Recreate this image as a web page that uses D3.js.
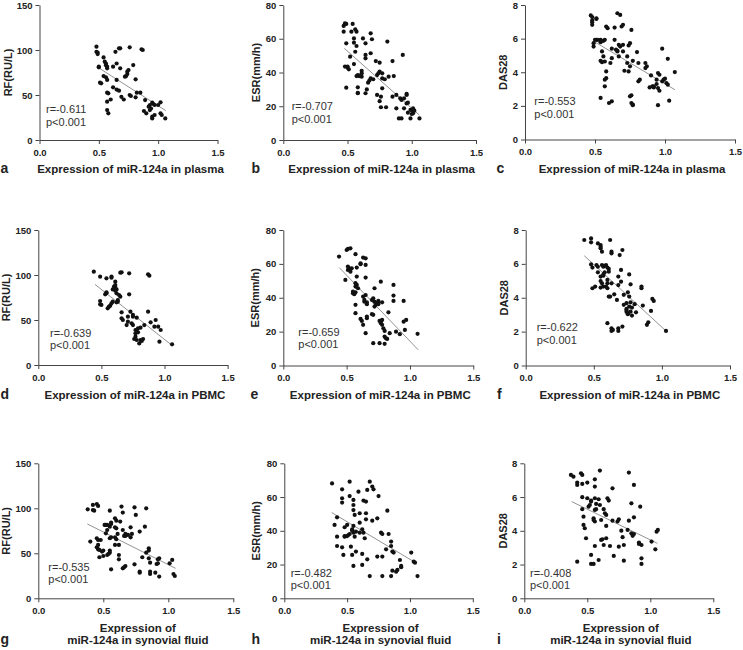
<!DOCTYPE html>
<html><head><meta charset="utf-8">
<script src="https://cdn.jsdelivr.net/npm/d3@7"></script>
<style>body{margin:0;background:#fff} svg{display:block;font-family:Arial,"Liberation Sans",sans-serif}</style>
</head><body><svg id="chart" width="743" height="650"></svg>
<script>
// ---------- DATA ----------
const xTicks = [0, 0.5, 1.0, 1.5];
const rfTicks = [0, 50, 100, 150];
const esrTicks = [0, 20, 40, 60, 80];
const dasTicks = [0, 2, 4, 6, 8];
const yLabels = ["RF(RU/L)", "ESR(mm/h)", "DAS28"];
const panelLetters = ["a","b","c","d","e","f","g","h","i"];
const xTitles = [
  ["Expression of miR-124a in plasma"], ["Expression of miR-124a in plasma"], ["Expression of miR-124a in plasma"],
  ["Expression of miR-124a in PBMC"], ["Expression of miR-124a in PBMC"], ["Expression of miR-124a in PBMC"],
  ["Expression of", "miR-124a in synovial fluid"], ["Expression of", "miR-124a in synovial fluid"], ["Expression of", "miR-124a in synovial fluid"]
];
const rValues = ["-0.611","-0.707","-0.553","-0.639","-0.659","-0.622","-0.535","-0.482","-0.408"];
const pText = "p<0.001";

const plasmaRF = [[0.48,103.7],[0.48,98],[0.49,97],[0.49,95.5],[0.50,81.5],[0.50,80.7],[0.51,63.7],[0.52,63],[0.54,91.8],[0.55,87],[0.56,85],[0.56,83],[0.57,81.5],[0.57,79.6],[0.54,71],[0.56,69.6],[0.57,66.7],[0.57,52.6],[0.58,51.9],[0.57,42.6],[0.60,45],[0.57,33.3],[0.58,29.6],[0.62,58.5],[0.62,81.5],[0.64,98],[0.65,85],[0.65,66.7],[0.65,56],[0.67,54.8],[0.67,101.9],[0.68,101.9],[0.68,79.6],[0.69,48],[0.71,45],[0.72,70.4],[0.74,73.3],[0.74,75.9],[0.75,77.8],[0.73,71],[0.76,103],[0.76,50],[0.77,48.9],[0.79,83.3],[0.81,67.4],[0.81,47.4],[0.82,52.6],[0.85,52.6],[0.86,100.7],[0.87,100],[0.89,44.4],[0.88,32.2],[0.90,29.6],[0.92,37],[0.93,38.9],[0.95,41.5],[0.96,40],[0.97,38.9],[0.93,33.3],[0.94,35],[0.95,25.9],[0.95,24],[0.97,27.8],[1.00,38.9],[1.02,29.6],[1.03,27.8],[1.02,41.9],[1.06,24]];
const plasmaESR = [[0.47,67.6],[0.48,69.1],[0.49,68.8],[0.47,64.2],[0.49,57.3],[0.48,43.5],[0.50,42.9],[0.50,43.5],[0.51,41.9],[0.49,31],[0.52,49.4],[0.54,68.8],[0.53,64.2],[0.55,60.2],[0.55,57.7],[0.56,65.6],[0.57,64.2],[0.56,52.3],[0.55,45],[0.57,55.7],[0.57,37.9],[0.58,38.5],[0.59,37.9],[0.58,31.2],[0.58,28],[0.58,27.7],[0.61,41],[0.61,39.5],[0.61,37.5],[0.62,60.2],[0.64,57.3],[0.64,48.4],[0.64,50.4],[0.64,27.7],[0.65,30],[0.66,34],[0.67,35.2],[0.68,36.5],[0.68,51.4],[0.68,63.2],[0.69,59.7],[0.70,36],[0.73,38.5],[0.74,39.5],[0.75,40.5],[0.72,46.8],[0.75,45.8],[0.73,26.7],[0.75,23],[0.76,25.7],[0.76,19.4],[0.77,36.5],[0.77,39.5],[0.77,30.6],[0.79,36],[0.80,19.4],[0.81,58.3],[0.82,37.5],[0.85,46.8],[0.86,37.9],[0.85,25.7],[0.88,26.7],[0.88,18.8],[0.90,12.8],[0.92,12.8],[0.91,24.7],[0.92,23.7],[0.93,50.4],[0.94,24.7],[0.96,26.7],[0.96,27.3],[0.94,18.8],[0.96,21.7],[0.97,22.1],[0.97,16.2],[0.99,17.8],[1.01,18.8],[1.02,17.4],[1.00,15.4],[0.99,12.8],[1.01,15.8],[1.01,16.8],[1.06,12.8]];
const plasmaDAS = [[0.47,7.38],[0.48,7.28],[0.48,7.08],[0.48,6.98],[0.48,6.82],[0.51,7.21],[0.51,7.17],[0.49,5.73],[0.49,5.53],[0.50,5.93],[0.51,5.93],[0.52,5.93],[0.54,5.93],[0.54,5.79],[0.56,5.87],[0.57,5.93],[0.55,5.24],[0.56,4.94],[0.54,4.68],[0.55,4.6],[0.57,4.64],[0.58,6.72],[0.59,6.62],[0.58,4.05],[0.58,3.65],[0.57,3.56],[0.57,3.16],[0.54,2.47],[0.60,2.17],[0.62,2.27],[0.61,4.55],[0.62,4.84],[0.62,5.4],[0.64,5.93],[0.64,6.66],[0.65,5.34],[0.66,5.24],[0.66,5.28],[0.66,7.51],[0.68,7.41],[0.67,5.63],[0.68,5.53],[0.67,4.94],[0.69,6.72],[0.70,6.82],[0.70,5.63],[0.70,5.24],[0.71,4.09],[0.73,4.94],[0.73,4.55],[0.74,5.59],[0.75,5.73],[0.74,4.05],[0.75,4.35],[0.76,6.52],[0.75,2.57],[0.76,2.63],[0.76,2.17],[0.77,2.08],[0.77,2.04],[0.77,4.68],[0.80,5.2],[0.81,4.55],[0.81,3.46],[0.82,3.56],[0.86,4.55],[0.87,4.35],[0.86,4.25],[0.90,3.81],[0.89,3.1],[0.91,3.16],[0.92,3.1],[0.92,3.16],[0.94,3.56],[0.94,3.3],[0.95,3.06],[0.96,2.9],[0.95,2.04],[0.95,3.95],[0.96,3.85],[0.98,5.4],[0.98,3.46],[0.99,3.56],[1.00,3.62],[1.01,3.36],[1.02,3.26],[1.02,4.8],[1.03,2.31],[1.07,4.01]];
const pbmcRF = [[0.44,103.7],[0.49,98.1],[0.49,67.4],[0.50,66.7],[0.49,71.1],[0.54,96.3],[0.54,79.6],[0.53,78.5],[0.54,80.7],[0.55,63],[0.56,64.8],[0.57,65.9],[0.58,98.1],[0.58,97],[0.58,68.5],[0.59,70.4],[0.59,84],[0.60,87],[0.61,82.6],[0.61,86.7],[0.62,84],[0.61,88.9],[0.61,92.6],[0.62,79.6],[0.63,72.2],[0.63,70.4],[0.62,69.6],[0.64,77.8],[0.65,75.9],[0.65,102.6],[0.66,103],[0.66,58.5],[0.66,51.9],[0.67,50],[0.71,53.7],[0.70,44.4],[0.71,48.1],[0.72,101.9],[0.72,78.5],[0.73,59.3],[0.75,55.6],[0.75,53.7],[0.74,46.3],[0.75,44.4],[0.77,38.9],[0.77,35.2],[0.77,31.5],[0.76,28.9],[0.78,27.8],[0.78,38.9],[0.79,36.3],[0.79,40.7],[0.78,52.6],[0.80,24],[0.81,27.8],[0.83,28.9],[0.82,26.7],[0.81,41.5],[0.84,44.4],[0.87,100.7],[0.88,99.3],[0.87,59.3],[0.89,47.4],[0.92,42.6],[0.93,50],[0.95,42.6],[0.96,25.9],[0.97,38.9],[1.06,23]];
const pbmcESR = [[0.44,64.3],[0.50,68.2],[0.51,68.8],[0.53,69.2],[0.49,50.5],[0.51,58.4],[0.51,56.4],[0.52,57.4],[0.53,55.4],[0.54,57.4],[0.57,65.7],[0.55,43.6],[0.55,42.7],[0.56,42.1],[0.57,43.2],[0.57,48.6],[0.58,47.6],[0.57,46.6],[0.58,57.8],[0.58,52.5],[0.61,60.3],[0.61,59.8],[0.59,45.6],[0.57,35.8],[0.57,30.9],[0.61,27.5],[0.62,26.3],[0.63,63.7],[0.65,63.3],[0.65,59.4],[0.65,51.9],[0.64,37.7],[0.63,40.7],[0.65,41.6],[0.64,38.7],[0.63,24],[0.65,19.1],[0.66,37.3],[0.66,36.2],[0.66,28.9],[0.66,27.9],[0.70,30.3],[0.71,29.9],[0.70,38.7],[0.71,39.7],[0.72,37.7],[0.72,45.6],[0.72,34.8],[0.73,35.8],[0.74,36.8],[0.75,37.3],[0.75,38.1],[0.75,36.2],[0.71,13.2],[0.77,49.5],[0.76,26.3],[0.77,25.9],[0.78,24],[0.78,26.9],[0.77,25],[0.76,13.2],[0.78,37.3],[0.79,22],[0.80,20.4],[0.80,17.1],[0.81,16.1],[0.82,15.7],[0.80,12.8],[0.83,31.4],[0.84,19.1],[0.87,47.6],[0.87,41.3],[0.87,38.1],[0.89,20],[0.92,18.5],[0.95,25.9],[0.95,38.1],[0.96,21],[0.97,26.9],[1.06,18.7]];
const pbmcDAS = [[0.43,7.41],[0.48,7.5],[0.48,7.27],[0.48,5.97],[0.49,5.78],[0.49,4.56],[0.51,4.66],[0.53,7.21],[0.55,7.11],[0.55,7.01],[0.55,6.92],[0.56,6.72],[0.52,5.93],[0.53,5.83],[0.53,5.5],[0.56,5.93],[0.57,5.83],[0.58,5.89],[0.55,5.25],[0.57,5.3],[0.57,5.38],[0.58,5.5],[0.55,4.99],[0.56,4.85],[0.57,4.66],[0.55,4.6],[0.59,5.93],[0.60,5.78],[0.61,5.7],[0.61,5.54],[0.60,5.05],[0.60,4.85],[0.59,4.66],[0.60,4.56],[0.61,4.07],[0.62,4.07],[0.60,2.5],[0.62,7.41],[0.63,6.72],[0.63,6.62],[0.63,4.85],[0.63,2.2],[0.64,2.1],[0.63,2.04],[0.65,4.2],[0.67,3.87],[0.68,2.2],[0.68,2.04],[0.68,5.25],[0.68,4.75],[0.69,6.52],[0.71,6.82],[0.70,5.64],[0.70,4.95],[0.71,2.3],[0.72,4.17],[0.72,3.58],[0.74,3.68],[0.74,3.28],[0.74,3.18],[0.75,3.03],[0.75,3.09],[0.74,3.34],[0.76,3.48],[0.75,4.32],[0.76,5.38],[0.76,4.07],[0.77,4.79],[0.77,3.73],[0.78,3.42],[0.77,3.18],[0.78,2.95],[0.80,3.62],[0.81,3.14],[0.85,4.56],[0.85,4.66],[0.86,3.54],[0.89,2.4],[0.90,2.55],[0.92,3.22],[0.93,3.93],[0.94,3.81],[1.03,2.04]];
const sfRF = [[0.38,98.9],[0.40,63],[0.42,98.1],[0.43,97.4],[0.42,103.7],[0.45,104.8],[0.46,102.6],[0.45,66.7],[0.46,64.8],[0.45,56.7],[0.46,54.4],[0.47,53.7],[0.46,59.3],[0.47,45.6],[0.48,64.8],[0.49,51.9],[0.50,53],[0.50,47],[0.51,81.5],[0.52,81.5],[0.53,81.5],[0.52,72.2],[0.53,75.9],[0.53,48.1],[0.54,49.3],[0.55,50.7],[0.55,97.4],[0.55,66.7],[0.56,67.8],[0.55,79.6],[0.56,82.6],[0.56,84.1],[0.55,53],[0.56,32.2],[0.59,88.9],[0.60,86.3],[0.59,78.9],[0.60,77.8],[0.59,67.8],[0.60,65.6],[0.59,59.3],[0.62,59.3],[0.61,71.5],[0.62,48.1],[0.62,43.3],[0.63,85.2],[0.64,101.9],[0.65,33.3],[0.66,34.4],[0.67,35.9],[0.65,95.2],[0.65,75.9],[0.67,71.5],[0.67,69.3],[0.66,69.3],[0.69,70.4],[0.71,67.8],[0.71,78.9],[0.72,71.5],[0.74,101.1],[0.75,92.6],[0.74,37.8],[0.78,74.1],[0.78,28.5],[0.78,29.6],[0.80,45.6],[0.82,79.6],[0.83,100],[0.83,50.7],[0.85,55.6],[0.85,53],[0.85,44.4],[0.86,39.6],[0.86,29.6],[0.86,27],[0.90,28.5],[0.91,38.1],[0.92,38.9],[0.92,43.3],[0.93,44.4],[0.93,24.1],[1.01,38.9],[1.03,42.6],[1.04,27],[1.05,24.8]];
const sfESR = [[0.38,68.1],[0.40,43.5],[0.42,48],[0.42,36.5],[0.42,31],[0.46,64.6],[0.46,59.3],[0.46,56.7],[0.46,30.2],[0.47,25.7],[0.48,36.5],[0.48,36.9],[0.48,42.1],[0.50,43.5],[0.50,36.9],[0.51,37.5],[0.52,69.1],[0.52,60.6],[0.52,38.1],[0.54,40.9],[0.54,40.1],[0.55,38.9],[0.53,30.6],[0.54,25.7],[0.55,58.3],[0.55,55.3],[0.55,52.3],[0.56,49.4],[0.55,19.2],[0.55,42.9],[0.56,36.5],[0.57,39.5],[0.57,27.7],[0.59,63.2],[0.60,50.4],[0.60,44.8],[0.60,38.9],[0.62,40.9],[0.62,26.3],[0.62,19.8],[0.63,57.9],[0.65,57.3],[0.63,38.9],[0.64,35.6],[0.65,46.8],[0.65,50.4],[0.66,23.1],[0.66,64.2],[0.68,69.1],[0.68,13.2],[0.70,46],[0.70,66.2],[0.71,64.6],[0.74,24.7],[0.74,47.4],[0.75,60.6],[0.77,38.9],[0.78,38.1],[0.78,24.7],[0.78,13.2],[0.82,51.9],[0.81,29],[0.83,38.1],[0.85,33.6],[0.85,31],[0.86,27.7],[0.87,27.1],[0.85,13.2],[0.86,16.4],[0.89,15.8],[0.90,16.8],[0.92,22.7],[0.93,19.2],[0.93,18.4],[1.01,27.1],[1.03,21.7],[1.04,21.1],[1.06,13.2]];
const sfDAS = [[0.37,7.31],[0.39,7.21],[0.42,6.86],[0.42,6.72],[0.42,2.17],[0.45,7.41],[0.46,7.31],[0.46,6.78],[0.46,5.99],[0.46,5.28],[0.47,4.84],[0.47,4.35],[0.48,4.15],[0.49,3.56],[0.50,6.86],[0.50,5.93],[0.51,5.43],[0.52,5.53],[0.53,5.73],[0.53,5.79],[0.53,2.57],[0.53,2.04],[0.55,2.04],[0.55,4.74],[0.56,4.55],[0.55,4.64],[0.56,7.05],[0.56,6.62],[0.56,5.93],[0.56,5.24],[0.57,5.28],[0.56,3.1],[0.57,5.59],[0.59,2.27],[0.59,5.87],[0.60,5.53],[0.60,7.57],[0.61,4.64],[0.61,3.46],[0.62,3.5],[0.63,3.16],[0.63,5.28],[0.64,5.04],[0.65,4.94],[0.65,4.29],[0.65,3.56],[0.66,5.93],[0.67,5.79],[0.68,3.1],[0.70,6.52],[0.70,4.6],[0.71,2.51],[0.74,4.55],[0.75,4.68],[0.75,3.06],[0.77,4.01],[0.78,3.62],[0.79,3.16],[0.79,2.23],[0.82,4.05],[0.83,7.45],[0.83,4.6],[0.85,5.63],[0.85,3.85],[0.86,3.7],[0.87,3.81],[0.87,4.8],[0.87,6.72],[0.91,3.3],[0.91,3.22],[0.92,5.43],[0.93,3.16],[0.93,2.04],[0.93,2.37],[1.01,3.36],[1.04,2.9],[1.05,3.95],[1.06,4.05]];

// regression line endpoints: [x0, y0, x1, y1]
const fitLines = [
  [0.483,81.5,1.065,32.6],[0.475,54.3,1.059,14.8],[0.493,5.83,1.071,2.96],
  [0.449,89.6,1.056,22.2],[0.442,57.8,1.066,9.2],[0.43,6.48,1.03,2.04],
  [0.377,82.6,1.056,33.3],[0.377,50.8,1.045,21.1],[0.376,5.73,1.056,3.26]
];
const panelData = [plasmaRF, plasmaESR, plasmaDAS, pbmcRF, pbmcESR, pbmcDAS, sfRF, sfESR, sfDAS];
const yTickSets = [rfTicks, esrTicks, dasTicks];

// ---------- LAYOUT (pixels) ----------
const layout = [
  {x0:39.5, x1:217.5, y0:140, y1:5, ylx:27.5, ann:[6.5,27.3,14.3], lx:0.5, tb:[173]},
  {x0:283.3, x1:476, y0:140, y1:5, ylx:23.3, ann:[8.4,30,17.3], lx:251.5, tb:[173]},
  {x0:525, x1:735, y0:139.5, y1:5, ylx:18.3, ann:[9.3,34.3,21.6], lx:496.5, tb:[173]},
  {x0:38.3, x1:227.6, y0:365, y1:230, ylx:28.3, ann:[11.7,28.3,15.7], lx:0.5, tb:[398.5]},
  {x0:283.3, x1:473.3, y0:365.5, y1:230, ylx:24, ann:[15,30,18], lx:250.5, tb:[398.5]},
  {x0:525.7, x1:730, y0:365.5, y1:230, ylx:18, ann:[11,34.7,21.4], lx:497, tb:[398.5]},
  {x0:38.3, x1:233.3, y0:598.3, y1:463.3, ylx:28.3, ann:[10,27.6,15], lx:0.5, tb:[631.7,644]},
  {x0:284.3, x1:472.8, y0:598.3, y1:463.3, ylx:24.3, ann:[6.4,21.6,9], lx:251.5, tb:[631.7,644]},
  {x0:524.3, x1:713.3, y0:598.3, y1:463.3, ylx:17.6, ann:[5.7,21.6,9], lx:497, tb:[631.7,644]}
];

const svg = d3.select("#chart");
const axisColor = "#444";

panelData.forEach((data, i) => {
  const L = layout[i];
  const col = i % 3;
  const yt = yTickSets[col];
  const x = d3.scaleLinear().domain([0, 1.5]).range([L.x0, L.x1]);
  const y = d3.scaleLinear().domain([0, yt[yt.length - 1]]).range([L.y0, L.y1]);
  const g = svg.append("g");

  const xa = g.append("g").attr("transform", `translate(0,${L.y0})`)
    .call(d3.axisBottom(x).tickValues(xTicks).tickFormat(d3.format(".1f")).tickSize(4).tickSizeOuter(0).tickPadding(5));
  const ya = g.append("g").attr("transform", `translate(${L.x0},0)`)
    .call(d3.axisLeft(y).tickValues(yt).tickSize(4).tickSizeOuter(0).tickPadding(3));
  [xa, ya].forEach(a => {
    a.select(".domain").attr("stroke", axisColor).attr("stroke-width", 1);
    a.selectAll(".tick line").attr("stroke", axisColor);
    a.selectAll(".tick text").attr("fill", "#222").attr("font-size", "9.5px").attr("font-weight", "bold")
      .attr("font-family", "Arial, 'Liberation Sans', sans-serif");
  });

  // fit line
  const f = fitLines[i];
  g.append("line")
    .attr("x1", x(f[0])).attr("y1", y(f[1])).attr("x2", x(f[2])).attr("y2", y(f[3]))
    .attr("stroke", "#777").attr("stroke-width", 0.8);

  // points
  g.selectAll("circle.pt").data(data).join("circle").attr("class", "pt")
    .attr("cx", d => x(d[0])).attr("cy", d => y(d[1])).attr("r", 2.1).attr("fill", "#111");

  // annotations
  g.append("text").attr("x", L.x0 + L.ann[0]).attr("y", L.y0 - L.ann[1])
    .attr("font-size", "11px").attr("fill", "#333").text("r=" + rValues[i]);
  g.append("text").attr("x", L.x0 + L.ann[0]).attr("y", L.y0 - L.ann[2])
    .attr("font-size", "11px").attr("fill", "#333").text(pText);

  // y label
  g.append("text").attr("transform", `translate(${L.x0 - L.ylx},${(L.y0 + L.y1) / 2}) rotate(-90)`)
    .attr("text-anchor", "middle").attr("font-size", "11px").attr("font-weight", "bold").attr("fill", "#222")
    .text(yLabels[col]);

  // x title
  xTitles[i].forEach((t, k) => {
    g.append("text").attr("x", (L.x0 + L.x1) / 2 + 2).attr("y", L.tb[k])
      .attr("text-anchor", "middle").attr("font-size", "11.5px").attr("font-weight", "bold").attr("fill", "#222")
      .text(t);
  });

  // panel letter
  g.append("text").attr("x", L.lx).attr("y", L.tb[L.tb.length - 1])
    .attr("font-size", "14px").attr("font-weight", "bold").attr("fill", "#222").text(panelLetters[i]);
});
</script></body></html>
